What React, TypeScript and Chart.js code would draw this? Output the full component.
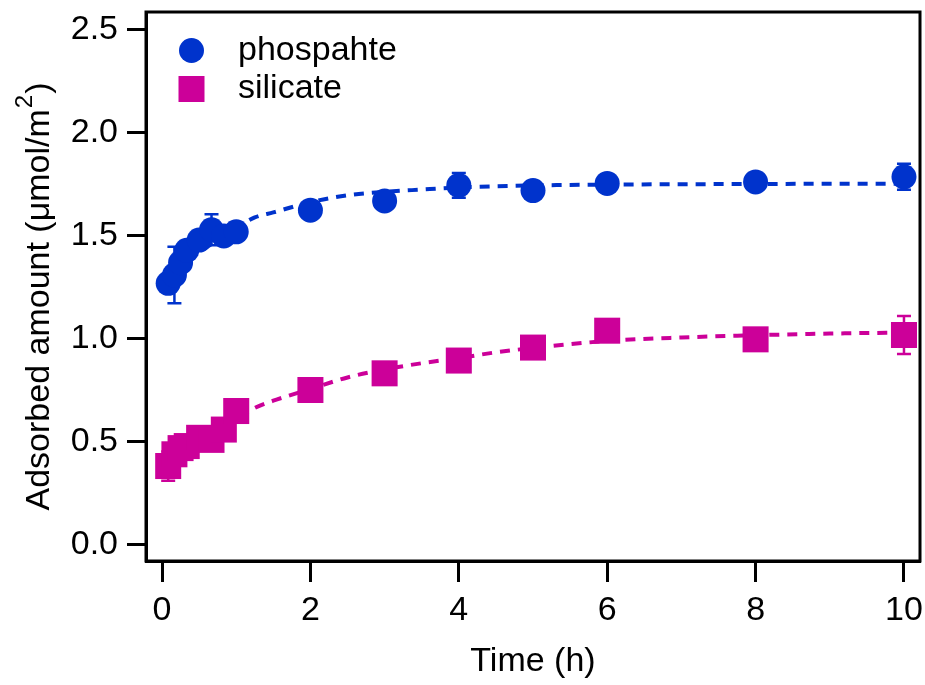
import React, { useEffect, useRef } from 'react';
import { Chart, registerables } from 'chart.js';

Chart.register(...registerables);

// ---- data ----
const timeHours = [0.083, 0.167, 0.25, 0.333, 0.5, 0.667, 0.833, 1, 2, 3, 4, 5, 6, 8, 10];

const phosphateValues = [1.27, 1.31, 1.37, 1.43, 1.48, 1.53, 1.5, 1.52, 1.625, 1.67, 1.745, 1.72, 1.755, 1.762, 1.787];
const phosphateErrors = [0.03, 0.137, 0.03, 0.03, 0.03, 0.075, 0.03, 0.03, 0.03, 0.03, 0.06, 0.03, 0.03, 0.03, 0.063];

const silicateValues = [0.383, 0.44, 0.47, 0.48, 0.52, 0.51, 0.56, 0.65, 0.752, 0.833, 0.895, 0.958, 1.04, 0.998, 1.019];
const silicateErrors = [0.071, 0.03, 0.03, 0.03, 0.03, 0.03, 0.03, 0.03, 0.03, 0.03, 0.03, 0.03, 0.03, 0.03, 0.092];

const fitTime = [0, 0.25, 0.5, 0.75, 1, 1.25, 1.5, 2, 2.5, 3, 3.5, 4, 4.5, 5, 6, 7, 8, 9, 10];
const phosphateFit = [1.27, 1.35, 1.42, 1.48, 1.54, 1.59, 1.614, 1.664, 1.697, 1.714, 1.725, 1.735, 1.741, 1.745, 1.749, 1.751, 1.752, 1.753, 1.753];
const silicateFit = [0.4, 0.45, 0.5, 0.555, 0.61, 0.665, 0.7, 0.757, 0.813, 0.852, 0.882, 0.907, 0.935, 0.956, 0.99, 1.007, 1.018, 1.026, 1.031];

const xTickValues = [0, 2, 4, 6, 8, 10];
const yTickValues = [0, 0.5, 1.0, 1.5, 2.0, 2.5];

const seriesNames = ['phospahte', 'silicate'];
const xTitle = 'Time (h)';
const yTitleMain = 'Adsorbed amount (\u03bcmol/m';
const yTitleSup = '2';
const yTitleEnd = ')';

const BLUE = '#0033cc';
const MAGENTA = '#cc0099';
const FONT_FAMILY = "Arial, 'Liberation Sans', Helvetica, sans-serif";
const FONT_SIZE = 34;

export default function App() {
  const canvasRef = useRef<HTMLCanvasElement | null>(null);

  useEffect(() => {
    const canvas = canvasRef.current;
    if (!canvas) return;

    const errorSeries = [
      { values: phosphateValues, errors: phosphateErrors, color: BLUE },
      { values: silicateValues, errors: silicateErrors, color: MAGENTA },
    ];

    const errorBarPlugin = {
      id: 'errorBars',
      beforeDatasetsDraw(chart: any) {
        const { ctx, scales } = chart;
        const xs = scales.x;
        const ys = scales.y;
        ctx.save();
        ctx.lineWidth = 2.5;
        errorSeries.forEach((s) => {
          ctx.strokeStyle = s.color;
          timeHours.forEach((t, i) => {
            const x = xs.getPixelForValue(t);
            const yTop = ys.getPixelForValue(s.values[i] + s.errors[i]);
            const yBot = ys.getPixelForValue(s.values[i] - s.errors[i]);
            ctx.beginPath();
            ctx.moveTo(x, yTop);
            ctx.lineTo(x, yBot);
            ctx.moveTo(x - 7, yTop);
            ctx.lineTo(x + 7, yTop);
            ctx.moveTo(x - 7, yBot);
            ctx.lineTo(x + 7, yBot);
            ctx.stroke();
          });
        });
        ctx.restore();
      },
    };

    const framePlugin = {
      id: 'frame',
      afterDatasetsDraw(chart: any) {
        const { ctx, chartArea } = chart;
        ctx.save();
        ctx.strokeStyle = '#000';
        ctx.lineWidth = 3;
        ctx.strokeRect(chartArea.left, chartArea.top, chartArea.right - chartArea.left, chartArea.bottom - chartArea.top);
        ctx.restore();
      },
    };

    const legendPlugin = {
      id: 'insideLegend',
      afterDraw(chart: any) {
        const { ctx, chartArea } = chart;
        const mx = chartArea.left + 45.5;
        const y1 = chartArea.top + 38.5;
        const y2 = chartArea.top + 77;
        ctx.save();
        ctx.fillStyle = BLUE;
        ctx.beginPath();
        ctx.arc(mx, y1, 12.5, 0, Math.PI * 2);
        ctx.fill();
        ctx.fillStyle = MAGENTA;
        ctx.fillRect(mx - 13, y2 - 13, 26, 26);
        ctx.fillStyle = '#000';
        ctx.font = `${FONT_SIZE}px ${FONT_FAMILY}`;
        ctx.textAlign = 'left';
        ctx.textBaseline = 'middle';
        ctx.fillText(seriesNames[0], chartArea.left + 92, y1);
        ctx.fillText(seriesNames[1], chartArea.left + 92, y2);
        ctx.restore();
      },
    };

    // y-axis title with a raised superscript "2"
    const yTitlePlugin = {
      id: 'yTitle',
      afterDraw(chart: any) {
        const { ctx, chartArea } = chart;
        const cx = 40;
        const cy = (chartArea.top + chartArea.bottom) / 2 + 10;
        ctx.save();
        ctx.translate(cx, cy);
        ctx.rotate(-Math.PI / 2);
        ctx.fillStyle = '#000';
        ctx.textBaseline = 'middle';
        ctx.textAlign = 'left';
        const mainFont = `${FONT_SIZE}px ${FONT_FAMILY}`;
        const supFont = `${Math.round(FONT_SIZE * 0.72)}px ${FONT_FAMILY}`;
        ctx.font = mainFont;
        const wMain = ctx.measureText(yTitleMain).width;
        const wEnd = ctx.measureText(yTitleEnd).width;
        ctx.font = supFont;
        const wSup = ctx.measureText(yTitleSup).width + 2;
        const total = wMain + wSup + wEnd;
        let x = -total / 2;
        ctx.font = mainFont;
        ctx.fillText(yTitleMain, x, 0);
        x += wMain;
        ctx.font = supFont;
        ctx.fillText(yTitleSup, x + 1, -15);
        x += wSup;
        ctx.font = mainFont;
        ctx.fillText(yTitleEnd, x, 0);
        ctx.restore();
      },
    };

    const font = { family: FONT_FAMILY, size: FONT_SIZE };

    const chart = new Chart(canvas, {
      type: 'scatter',
      data: {
        datasets: [
          {
            label: seriesNames[0],
            data: timeHours.map((t, i) => ({ x: t, y: phosphateValues[i] })),
            pointStyle: 'circle',
            pointRadius: 12.5,
            pointHoverRadius: 12.5,
            backgroundColor: BLUE,
            borderColor: BLUE,
            pointBorderWidth: 0,
            showLine: false,
            order: 1,
          },
          {
            label: seriesNames[1],
            data: timeHours.map((t, i) => ({ x: t, y: silicateValues[i] })),
            pointStyle: 'rect',
            pointRadius: 18.4,
            pointHoverRadius: 18.4,
            backgroundColor: MAGENTA,
            borderColor: MAGENTA,
            pointBorderWidth: 0,
            showLine: false,
            order: 1,
          },
          {
            label: 'phosphate fit',
            data: fitTime.map((t, i) => ({ x: t, y: phosphateFit[i] })),
            showLine: true,
            pointRadius: 0,
            borderColor: BLUE,
            borderWidth: 4,
            borderDash: [10, 8],
            cubicInterpolationMode: 'monotone',
            fill: false,
            order: 2,
          },
          {
            label: 'silicate fit',
            data: fitTime.map((t, i) => ({ x: t, y: silicateFit[i] })),
            showLine: true,
            pointRadius: 0,
            borderColor: MAGENTA,
            borderWidth: 4,
            borderDash: [10, 8],
            cubicInterpolationMode: 'monotone',
            fill: false,
            order: 2,
          },
        ] as any,
      },
      options: {
        responsive: false,
        maintainAspectRatio: false,
        devicePixelRatio: 1,
        animation: false,
        events: [],
        layout: { autoPadding: false, padding: { left: 0, right: 5, top: 12, bottom: 0 } },
        plugins: {
          legend: { display: false },
          tooltip: { enabled: false },
          title: { display: false },
        },
        scales: {
          x: {
            type: 'linear',
            position: 'bottom',
            min: -0.216,
            max: 10.216,
            afterBuildTicks: (scale: any) => {
              scale.ticks = xTickValues.map((v) => ({ value: v }));
            },
            afterFit: (scale: any) => {
              scale.height = 124;
              scale.paddingLeft = 0;
              scale.paddingRight = 0;
            },
            grid: {
              display: true,
              drawOnChartArea: false,
              drawTicks: true,
              tickLength: 21,
              tickWidth: 3,
              tickColor: '#000',
            },
            border: { display: true, color: '#000', width: 3 },
            ticks: {
              color: '#000',
              font,
              padding: 8,
              maxRotation: 0,
              autoSkip: false,
              callback: (v: any) => String(v),
            },
            title: {
              display: true,
              text: xTitle,
              color: '#000',
              font,
              padding: { top: 0, bottom: 3 },
            },
          },
          y: {
            type: 'linear',
            position: 'left',
            min: -0.078,
            max: 2.587,
            afterBuildTicks: (scale: any) => {
              scale.ticks = yTickValues.map((v) => ({ value: v }));
            },
            afterFit: (scale: any) => {
              scale.width = 146;
              scale.paddingTop = 0;
              scale.paddingBottom = 0;
            },
            grid: {
              display: true,
              drawOnChartArea: false,
              drawTicks: true,
              tickLength: 19,
              tickWidth: 3,
              tickColor: '#000',
            },
            border: { display: true, color: '#000', width: 3 },
            ticks: {
              color: '#000',
              font,
              padding: 9,
              autoSkip: false,
              callback: (v: any) => Number(v).toFixed(1),
            },
            title: { display: false },
          },
        },
      } as any,
      plugins: [errorBarPlugin, framePlugin, legendPlugin, yTitlePlugin],
    });

    return () => {
      chart.destroy();
    };
  }, []);

  return (
    <div style={{ position: 'absolute', left: 0, top: 0, width: 925, height: 685, background: '#fff' }}>
      <canvas ref={canvasRef} width={925} height={685} style={{ display: 'block', width: 925, height: 685 }} />
    </div>
  );
}
